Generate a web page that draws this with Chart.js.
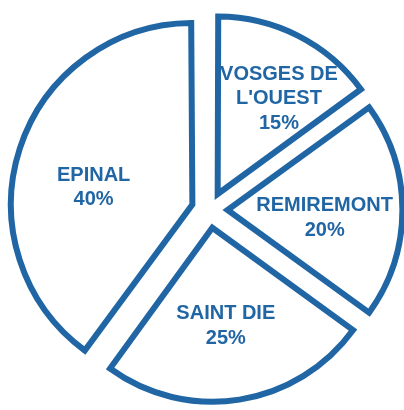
<!DOCTYPE html>
<html>
<head>
<meta charset="utf-8">
<script src="https://cdn.jsdelivr.net/npm/chart.js@4/dist/chart.umd.min.js"></script>
<style>
  html, body { margin: 0; padding: 0; background: #fff; }
  #wrap { width: 404px; height: 410px; position: relative; }
</style>
</head>
<body>
<div id="wrap"><canvas id="pie-chart"></canvas></div>
<script>
// Data
const categories = [["VOSGES DE", "L'OUEST"], "REMIREMONT", "SAINT DIE", "EPINAL"];
const shares = [15, 20, 25, 40];

const blue = '#2166a4';

// Draws the name + percent inside each slice
const sliceLabels = {
    id: 'sliceLabels',
    afterDatasetsDraw(chart, args, opts) {
        const ctx = chart.ctx;
        const meta = chart.getDatasetMeta(0);
        const data = chart.data.datasets[0].data;
        const total = data.reduce((a, b) => a + b, 0);
        ctx.save();
        ctx.fillStyle = blue;
        ctx.font = 'bold 20px "Liberation Sans", Arial, sans-serif';
        ctx.textAlign = 'center';
        ctx.textBaseline = 'middle';
        meta.data.forEach((arc, i) => {
            const mid = (arc.startAngle + arc.endAngle) / 2 + (opts.nudge[i] || 0) * Math.PI / 180;
            const shift = (arc.options.offset || 0) / 4;
            const dist = shift + opts.frac[i] * arc.outerRadius;
            const cx = arc.x + Math.cos(mid) * dist;
            const cy = arc.y + Math.sin(mid) * dist;
            let name = chart.data.labels[i];
            const lines = (Array.isArray(name) ? name.slice() : [name]);
            lines.push(Math.round(data[i] / total * 100) + '%');
            const lh = 24.5;
            const top = cy - (lines.length - 1) * lh / 2;
            lines.forEach((t, j) => ctx.fillText(t, cx, top + j * lh));
        });
        ctx.restore();
    }
};

const pieChart = new Chart(document.getElementById('pie-chart'), {
    type: 'pie',
    data: {
        labels: categories,
        datasets: [{
            data: shares,
            backgroundColor: '#ffffff',
            borderColor: blue,
            borderWidth: 6,
            borderJoinStyle: 'miter',
            offset: 72,
            hoverOffset: 0
        }]
    },
    options: {
        responsive: true,
        maintainAspectRatio: false,
        animation: false,
        radius: 174,
        layout: { padding: { left: 15, top: 10, right: 0, bottom: 0 } },
        plugins: {
            legend: { display: false },
            tooltip: { enabled: false },
            sliceLabels: {
                frac: [0.65, 0.56, 0.57, 0.575],
                nudge: [5, 4, 1, -7]
            }
        }
    },
    plugins: [sliceLabels]
});
</script>
</body>
</html>
